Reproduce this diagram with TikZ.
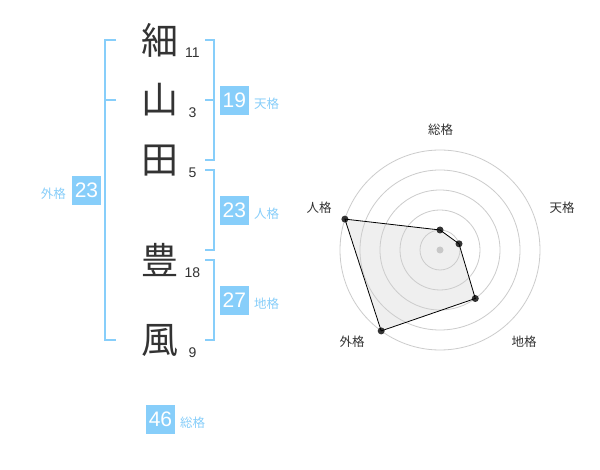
\documentclass[tikz,border=0pt]{standalone}
\usepackage{fontspec}
\setmainfont{Liberation Sans}
\newfontfamily\jp{Noto Sans CJK JP}
\definecolor{sky}{HTML}{87CEFA}
\definecolor{ink}{HTML}{333333}
\definecolor{ring}{HTML}{CCCCCC}
\definecolor{area}{HTML}{EFEFEF}
\definecolor{hub}{HTML}{C8C8C8}
\begin{document}
\begin{tikzpicture}[x=1pt,y=-1pt,
 kanji/.style={font=\jp\fontsize{37}{37}\selectfont, text=ink, inner sep=0},
 strokes/.style={font=\fontsize{14}{14}\selectfont, text=ink, inner sep=0},
 scorebox/.style={fill=sky, text=white, minimum width=29pt, minimum height=29pt, inner sep=0, font=\fontsize{21}{21}\selectfont},
 scorelbl/.style={font=\jp\fontsize{12.5}{12.5}\selectfont, text=sky, inner sep=0},
 brk/.style={draw=sky, line width=2pt},
 radarlbl/.style={font=\jp\fontsize{12.5}{12.5}\selectfont, text=ink, inner sep=0},
 dotn/.style={circle, fill=ink, inner sep=0, minimum size=7pt},
 ringline/.style={draw=ring, line width=0.8pt},
]
\useasboundingbox[fill=white] (0,0) rectangle (600,470);

% characters
\node[kanji] (k1) at (160,40) {細};
\node[kanji] (k2) at (160,100) {山};
\node[kanji] (k3) at (160,161) {田};
\node[kanji] (k4) at (160,260) {豊};
\node[kanji] (k5) at (160,340) {風};
% stroke counts
\node[strokes] (n1) at (192.5,53) {11};
\node[strokes] (n2) at (192.5,113) {3};
\node[strokes] (n3) at (192.5,173) {5};
\node[strokes] (n4) at (192.5,273) {18};
\node[strokes] (n5) at (192.5,353) {9};

% left bracket (gaikaku)
\coordinate (la) at (116,40);
\coordinate (lb) at (116,100);
\coordinate (lc) at (116,340);
\draw[brk] (la) -- (105,40) -- (105,340) -- (lc);
\draw[brk] (lb) -- (105,100);
% right brackets
\draw[brk] (205,40) -- (214.3,40) -- (214.3,160) -- (205,160);
\draw[brk] (205,100) -- (214.3,100);
\draw[brk] (205,170) -- (214.3,170) -- (214.3,250) -- (205,250);
\draw[brk] (205,260) -- (214.3,260) -- (214.3,340) -- (205,340);

% score boxes
\node[scorebox] (b1) at (234.3,100.5) {19};
\node[scorelbl, anchor=west] (l1) at (254,104) {天格};
\node[scorebox] (b2) at (234.3,210.5) {23};
\node[scorelbl, anchor=west] (l2) at (254,214) {人格};
\node[scorebox] (b3) at (234.3,300.5) {27};
\node[scorelbl, anchor=west] (l3) at (254,304) {地格};
\node[scorebox] (b4) at (86.5,190.3) {23};
\node[scorelbl, anchor=east] (l4) at (66,194) {外格};
\node[scorebox] (b5) at (160.5,419.3) {46};
\node[scorelbl, anchor=west] (l5) at (180,422.7) {総格};

% radar chart
\coordinate (ctr) at (440,250);
\coordinate (q1) at (440,230);
\coordinate (q2) at (459.0,243.8);
\coordinate (q3) at (475.3,298.5);
\coordinate (q4) at (381.2,330.9);
\coordinate (q5) at (344.9,219.1);
\fill[area] (q1) -- (q2) -- (q3) -- (q4) -- (q5) -- cycle;
\foreach \r in {20,40,60,80,100} \draw[ringline] (ctr) circle[radius=\r pt];
\node[circle, fill=hub, inner sep=0, minimum size=7pt] (hubdot) at (ctr) {};
\node[dotn] (p1) at (q1) {};
\node[dotn] (p2) at (q2) {};
\node[dotn] (p3) at (q3) {};
\node[dotn] (p4) at (q4) {};
\node[dotn] (p5) at (q5) {};
\draw[black, line width=0.8pt] (p1.center) -- (p2.center) -- (p3.center) -- (p4.center) -- (p5.center) -- cycle;

\node[radarlbl] (r1) at (440.7,130) {総格};
\node[radarlbl] (r2) at (562,208) {天格};
\node[radarlbl] (r3) at (524,342) {地格};
\node[radarlbl] (r4) at (352,342) {外格};
\node[radarlbl] (r5) at (319,208) {人格};
\end{tikzpicture}
\end{document}
